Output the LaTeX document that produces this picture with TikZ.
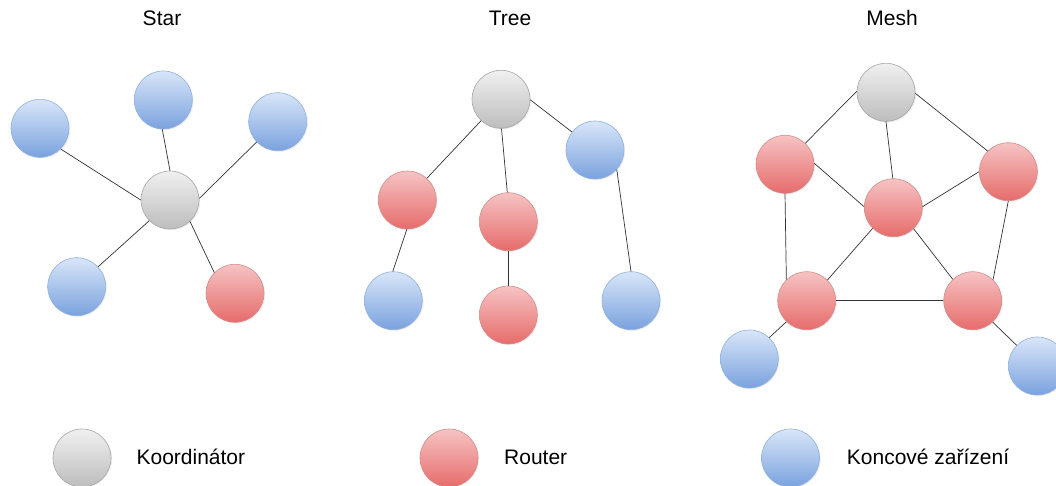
\documentclass[tikz,border=0pt]{standalone}
\usepackage{fontspec}
\setmainfont{Liberation Sans}
\usetikzlibrary{shadows}
\definecolor{gtop}{HTML}{F0F0F0}
\definecolor{gbot}{HTML}{BDBDBD}
\definecolor{gbrd}{HTML}{A6A6A6}
\definecolor{rtop}{HTML}{F6C3C3}
\definecolor{rbot}{HTML}{E66C6B}
\definecolor{rbrd}{HTML}{D48C8C}
\definecolor{btop}{HTML}{D8E6F9}
\definecolor{bbot}{HTML}{7AA2DE}
\definecolor{bbrd}{HTML}{90B0E0}
\definecolor{linkc}{HTML}{333333}
\tikzset{
  dev/.style={circle, minimum size=58pt, inner sep=0pt, line width=0.6pt,
    drop shadow={opacity=0.12, shadow xshift=1.2pt, shadow yshift=-1.2pt}},
  coord/.style={dev, draw=gbrd, top color=gtop, bottom color=gbot},
  rout/.style={dev, draw=rbrd, top color=rtop, bottom color=rbot},
  endd/.style={dev, draw=bbrd, top color=btop, bottom color=bbot},
  link/.style={draw=linkc, line width=0.7pt},
  ttl/.style={anchor=base, font=\fontsize{21}{25}\selectfont, inner sep=0pt},
  lgd/.style={anchor=base west, font=\fontsize{21}{25}\selectfont, inner sep=0pt}
}
\begin{document}
\begin{tikzpicture}[x=1pt, y=-1pt]
\useasboundingbox (0,0) rectangle (1056,485);
\clip (0,0) rectangle (1056,485);
\fill[white] (0,0) rectangle (1056,485);

% titles
\node[ttl] (tstar) at (162,25.7) {Star};
\node[ttl] (ttree) at (510,25.7) {Tree};
\node[ttl] (tmesh) at (892,25.7) {Mesh};

% Star
\node[coord] (sG) at (170,200) {};
\node[endd] (sTL) at (40,128.3) {};
\node[endd] (sT) at (163.3,100) {};
\node[endd] (sTR) at (277.7,121.7) {};
\node[endd] (sBL) at (76.7,286.7) {};
\node[rout] (sR) at (235,293.3) {};

% Tree
\node[coord] (tG) at (501,99.3) {};
\node[endd] (tBR) at (595,150) {};
\node[rout] (tRL) at (407.3,200) {};
\node[rout] (tRM) at (508.3,221.7) {};
\node[endd] (tBBL) at (393.3,300.7) {};
\node[rout] (tRB) at (508.3,315) {};
\node[endd] (tBBR) at (631,300.7) {};

% Mesh
\node[coord] (mG) at (886,92.3) {};
\node[rout] (mRL) at (785,164.3) {};
\node[rout] (mRR) at (1008.3,171.7) {};
\node[rout] (mRC) at (893.3,207.7) {};
\node[rout] (mRBL) at (806.7,300.7) {};
\node[rout] (mRBR) at (972.7,300.7) {};
\node[endd] (mBBL) at (749.3,359) {};
\node[endd] (mBBR) at (1037.3,366) {};

% Star links
\draw[link] (sTL.-45) -- (sG.180);
\draw[link] (sT.-92) -- (sG.90);
\draw[link] (sTR.224) -- (sG.3);
\draw[link] (sBL.43) -- (sG.225);
\draw[link] (sR.135) -- (sG.-47);

% Tree links
\draw[link] (tG.227) -- (tRL.48);
\draw[link] (tG.-89) -- (tRM.92);
\draw[link] (tG.-1) -- (tBR.142);
\draw[link] (tRL.-91) -- (tBBL.91);
\draw[link] (tRM.-90) -- (tRB.90);
\draw[link] (tBR.-42) -- (tBBR.90);

% Mesh links
\draw[link] (mG.178) -- (mRL.46);
\draw[link] (mG.-90) -- (mRC.91);
\draw[link] (mG.-2) -- (mRR.135);
\draw[link] (mRL.2) -- (mRC.178);
\draw[link] (mRR.180) -- (mRC.2);
\draw[link] (mRL.-90) -- (mRBL.134);
\draw[link] (mRR.-90) -- (mRBR.46);
\draw[link] (mRC.225) -- (mRBL.45);
\draw[link] (mRC.-46) -- (mRBR.133);
\draw[link] (mRBL.0) -- (mRBR.180);
\draw[link] (mRBL.226) -- (mBBL.47);
\draw[link] (mRBR.-47) -- (mBBR.135);

% Legend
\node[coord] (lG) at (82,458) {};
\node[lgd] (lGt) at (136.4,464.3) {Koordinátor};
\node[rout] (lR) at (449,458) {};
\node[lgd] (lRt) at (504,464.3) {Router};
\node[endd] (lB) at (790.5,458) {};
\node[lgd] (lBt) at (846.7,464.3) {Koncové zařízení};
\end{tikzpicture}
\end{document}
